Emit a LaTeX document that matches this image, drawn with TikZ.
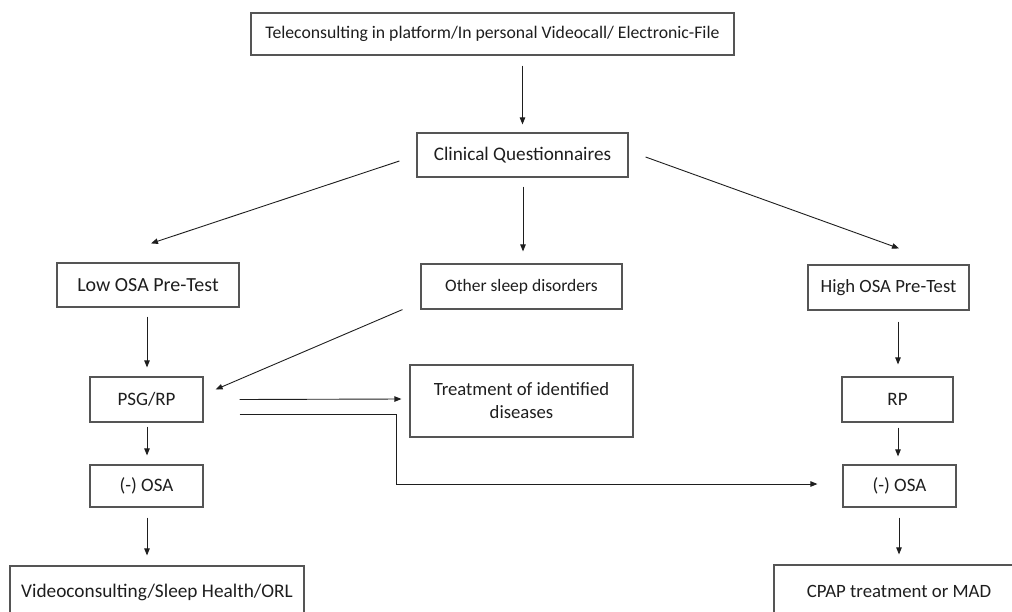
\documentclass[tikz,border=0pt]{standalone}
\usepackage{fontspec}
\setmainfont{Carlito}
\usetikzlibrary{arrows.meta,calc}
\definecolor{boxline}{HTML}{555555}
\definecolor{txt}{HTML}{1E1E1E}
\newcommand{\fs}[1]{\fontsize{#1}{23}\selectfont}
\begin{document}
\begin{tikzpicture}[x=1pt,y=-1pt,
  box/.style={draw=boxline,line width=1.2pt,inner sep=0pt,align=center,text=txt,font=\fs{19}},
  arr/.style={draw=txt,line width=0.9pt,-{Triangle[length=7pt,width=5.5pt]}}]
\useasboundingbox (0,0) rectangle (1012,611);
\begin{scope}
\clip (0,0) rectangle (1012,611);
\node[box,minimum width=483pt,minimum height=42pt,font=\fs{17.7}] (top) at (492.5,34) {Teleconsulting in platform/In personal Videocall/ Electronic-File};
\node[box,minimum width=211pt,minimum height=44pt,font=\fs{19.2}] (cq) at (522.5,155) {Clinical Questionnaires};
\node[box,minimum width=182pt,minimum height=44pt,font=\fs{20}] (low) at (148,285) {Low OSA Pre-Test};
\node[box,minimum width=201pt,minimum height=45pt,font=\fs{17.5}] (other) at (521.5,286.5) {Other sleep disorders};
\node[box,minimum width=161pt,minimum height=45pt,font=\fs{18.7}] (high) at (888.5,287.5) {High OSA Pre-Test};
\node[box,minimum width=113pt,minimum height=45pt] (psg) at (146.5,399.5) {PSG/RP};
\node[box,minimum width=223pt,minimum height=72pt,font=\fs{18.7}] (treat) at (521.5,401) {Treatment of identified\\diseases};
\node[box,minimum width=111pt,minimum height=45pt] (rp) at (897.5,399.5) {RP};
\node[box,minimum width=113pt,minimum height=42pt] (osaL) at (146.5,486) {(-) OSA};
\node[box,minimum width=113pt,minimum height=42pt] (osaR) at (899.5,486) {(-) OSA};
\node[box,minimum width=294pt,minimum height=52pt,font=\fs{19.3}] (video) at (157,592) {Videoconsulting/Sleep Health/ORL};
\node[box,minimum width=250pt,minimum height=52pt,font=\fs{18.8}] (cpap) at (899,591) {CPAP treatment or MAD};
\end{scope}
% connectors
\draw[arr] ($(top.south -| cq.north)+(0,10)$) -- ($(cq.north)+(0,-8)$);
\draw[arr] ($(cq.west)+(-17,6)$) -- ($(low.north)+(3,-19)$);
\draw[arr] ($(cq.south)+(0.5,9)$) -- ($(other.north)+(1.5,-12)$);
\draw[arr] ($(cq.east)+(17,2)$) -- ($(high.north)+(10.5,-16)$);
\draw[arr] ($(low.south)+(-1,9)$) -- ($(psg.north)+(0.5,-9)$);
\draw[arr] ($(other.south west)+(-18,0)$) -- ($(psg.east)+(12,-10)$);
\draw[arr] ($(psg.east)+(36,0)$) -- ($(treat.west)+(-8,-2)$);
\coordinate (bend) at ($(psg.east)+(193,15)$);
\draw[arr] ($(psg.east)+(36,15)$) -- (bend) |- ($(osaR.west)+(-25,-2)$);
\draw[arr] ($(psg.south)+(0.5,4)$) -- ($(osaL.north)+(0.5,-9)$);
\draw[arr] ($(osaL.south)+(0.5,10)$) -- ($(video.north -| osaL.south)+(0.5,-10)$);
\draw[arr] ($(high.south)+(9.5,11)$) -- ($(rp.north)+(0.5,-12)$);
\draw[arr] ($(rp.south)+(0.5,5)$) -- ($(osaR.north)+(-1.5,-8)$);
\draw[arr] ($(osaR.south)+(-0.5,10)$) -- ($(cpap.north)+(0,-10)$);
\end{tikzpicture}
\end{document}
